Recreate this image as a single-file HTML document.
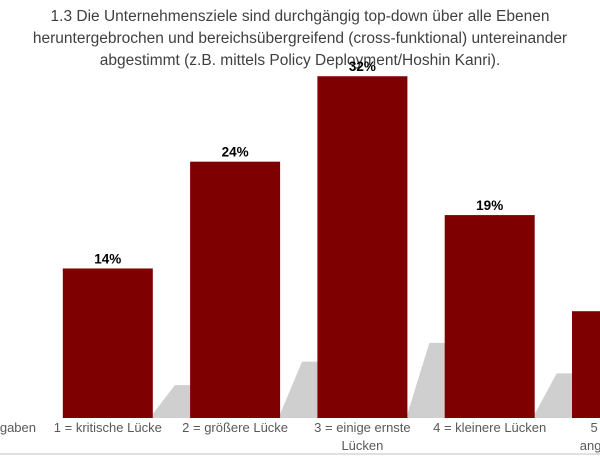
<!DOCTYPE html>
<html><head><meta charset="utf-8"><style>
html,body{margin:0;padding:0;background:#fff;}
svg{display:block;font-family:"Liberation Sans",sans-serif;}
</style></head><body>
<svg width="600" height="458" viewBox="0 0 600 458">
<rect x="0" y="0" width="600" height="458" fill="#fff"/>
<g fill="#404040" font-size="15.5" text-anchor="middle">
<text x="300" y="21">1.3 Die Unternehmensziele sind durchgängig top-down über alle Ebenen</text>
<text x="300" y="43">heruntergebrochen und bereichsübergreifend (cross-funktional) untereinander</text>
<text x="300" y="65">abgestimmt (z.B. mittels Policy Deployment/Hoshin Kanri).</text>
</g>
<g id="shadows"></g>
<g id="bars"></g>
<g id="labels"></g>
<line x1="0" y1="454" x2="600" y2="454" stroke="#e0e0e0" stroke-width="2"/>
</svg>
<script>
const categories = [["keine Angaben"],["1 = kritische Lücke"],["2 = größere Lücke"],["3 = einige ernste","Lücken"],["4 = kleinere Lücken"],["5 = keine","angemessen"]];
const values = [0, 14, 24, 32, 19, 10];
const valueLabels = ["", "14%", "24%", "32%", "19%", ""];
const NS = "http://www.w3.org/2000/svg";
const baseY = 418, pxPerPct = 10.68, pitch = 127.3, firstCenter = -19.5, barW = 90;
function xCenter(i){ return firstCenter + i*pitch; }
function yVal(v){ return baseY - v*pxPerPct; }
const gB = document.getElementById('bars'), gS = document.getElementById('shadows'), gL = document.getElementById('labels');
values.forEach((v,i)=>{
  const cx = xCenter(i), x = cx - barW/2, h = baseY - yVal(v);
  if (v > 0) {
    const xr = x + barW, sh = 0.22*h;
    const p = document.createElementNS(NS,'polygon');
    
    
    p.setAttribute('points', `${xr},${baseY} ${xr},${baseY-4} ${xr+22},${baseY-sh} ${xr+38},${baseY-sh} ${xr+38},${baseY}`);
    p.setAttribute('fill','#cfcfcf');
    gS.appendChild(p);
    const r = document.createElementNS(NS,'rect');
    
    
    r.setAttribute('x',x); r.setAttribute('y',yVal(v));
    r.setAttribute('width',barW); r.setAttribute('height',h);
    r.setAttribute('fill','#7f0000');
    gB.appendChild(r);
  }
  if (valueLabels[i]) {
    const t = document.createElementNS(NS,'text');
    
    
    t.setAttribute('x',cx); t.setAttribute('y',yVal(v)-5);
    t.setAttribute('text-anchor','middle'); t.setAttribute('font-size','13.5');
    t.setAttribute('font-weight','bold'); t.setAttribute('fill','#000');
    t.textContent = valueLabels[i];
    gL.appendChild(t);
  }
  categories[i].forEach((line,j)=>{
    const t = document.createElementNS(NS,'text');
    
    
    t.setAttribute('x', i===0 ? 36 : cx);
    t.setAttribute('y', 432 + j*18);
    t.setAttribute('text-anchor', i===0 ? 'end' : 'middle');
    t.setAttribute('font-size','13'); t.setAttribute('fill','#595959');
    t.textContent = line;
    gL.appendChild(t);
  });
});
</script>
</body></html>
